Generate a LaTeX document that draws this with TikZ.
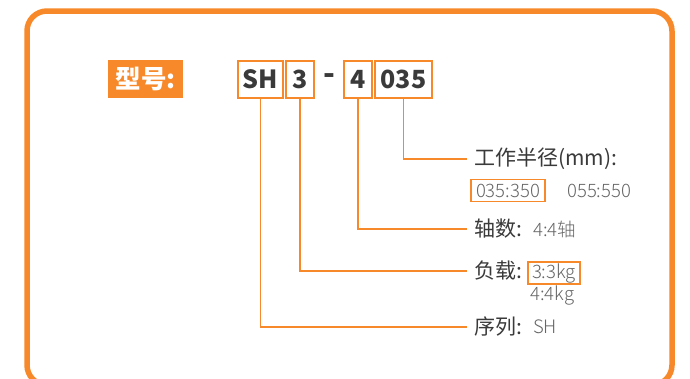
\documentclass[tikz,border=0pt]{standalone}
\usepackage{fontspec}
\setmainfont{Noto Sans CJK SC}
\newfontfamily\lightf{Noto Sans CJK SC Light}
\definecolor{org}{HTML}{F7892A}
\definecolor{dark}{HTML}{3A3A3A}
\definecolor{grayv}{HTML}{666666}
\tikzset{
  codebox/.style={draw=org, line width=1.4pt, minimum height=37pt, inner xsep=2pt, inner ysep=0pt,
    font=\fontsize{25}{25}\selectfont\bfseries, text=dark},
  lbl/.style={anchor=west, inner xsep=7pt, inner ysep=0pt, font=\fontsize{21}{21}\selectfont, text=dark},
  val/.style={anchor=west, inner sep=0pt, font=\lightf\fontsize{18.5}{18.5}\selectfont, text=grayv},
  valbox/.style={draw=org, line width=1.1pt, inner xsep=2pt, inner ysep=0pt, minimum height=22pt,
    font=\lightf\fontsize{18.5}{18.5}\selectfont, text=grayv},
  conn/.style={draw=org, line width=1.4pt}
}
\begin{document}
\begin{tikzpicture}[x=1pt,y=-1pt]
\useasboundingbox (0,0) rectangle (690,378);
\clip (0,0) rectangle (690,378);
\fill[white] (0,0) rectangle (690,378);
\draw[org, line width=5.5pt, rounded corners=20pt] (27,11) rectangle (672,385);
% model label
\node[fill=org, text=white, minimum width=75pt, minimum height=38pt, inner sep=0pt,
  font=\fontsize{25.5}{25.5}\selectfont\bfseries] (xh) at (145.5,79) {型号:};
% code boxes
\node[codebox, minimum width=45pt] (sh) at (260.5,79.5) {SH};
\node[codebox, minimum width=28pt] (n3) at (300,79.5) {3};
\node[font=\fontsize{31}{31}\selectfont\bfseries, text=dark, inner sep=0pt] (dash) at (329,79) {-};
\node[codebox, minimum width=28pt] (n4) at (358,79.5) {4};
\node[codebox, minimum width=57pt] (n035) at (403.5,79.5) {035};
% labels
\node[lbl] (l1) at (467,159) {工作半径(mm):};
\node[lbl] (l2) at (467,229) {轴数:};
\node[lbl] (l3) at (467,271) {负载:};
\node[lbl] (l4) at (467,327) {序列:};
% values
\node[valbox, minimum width=74pt] (v1) at (508,190.5) {035:350};
\node[val] (v2) at (567,190.5) {055:550};
\node[val] (v3) at (533,229) {4:4轴};
\node[valbox, minimum width=52pt] (v4) at (554,273) {3:3kg};
\node[val] (v5) at (530,295) {4:4kg};
\node[val] (v6) at (533,327) {SH};
% connectors
\draw[conn] (n035.south) |- (l1.west);
\draw[conn] (n4.south) |- (l2.west);
\draw[conn] (n3.south) |- (l3.west);
\draw[conn] (sh.south) |- (l4.west);
\end{tikzpicture}
\end{document}
